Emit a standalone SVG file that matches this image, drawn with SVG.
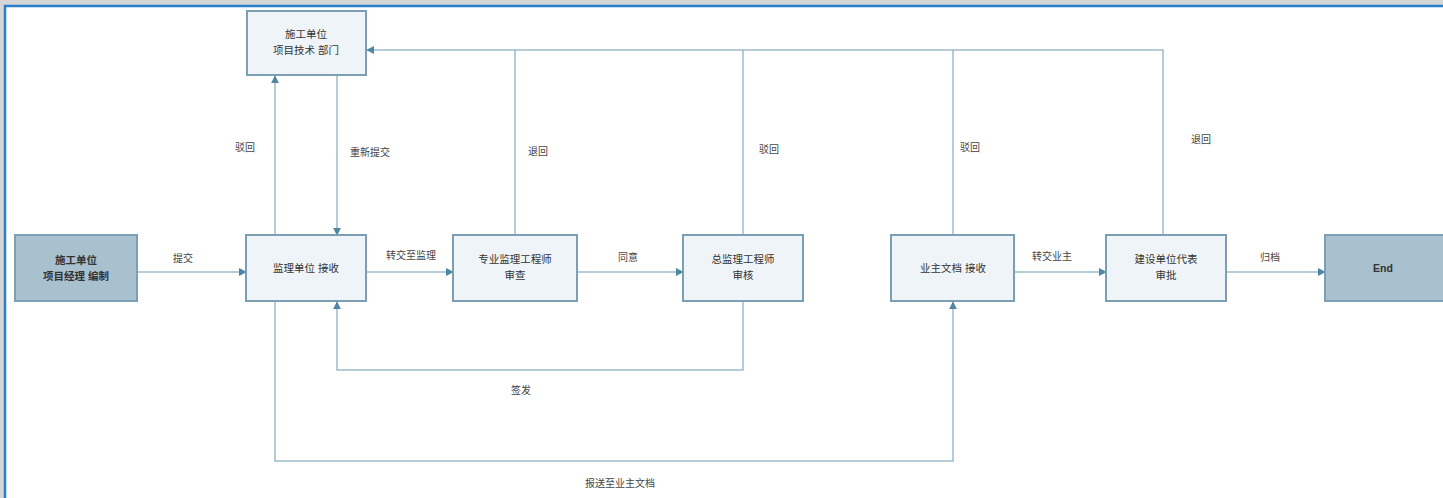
<svg xmlns="http://www.w3.org/2000/svg" width="1443" height="498" viewBox="0 0 1443 498">
<defs>
<style>
.bg{fill:#ffffff;stroke:#2a7fc9;stroke-width:2.5}
.n{fill:#eef4f8;stroke:#7d9fb3;stroke-width:2}
.d{fill:#a9c0ce;stroke:#7d9fb3;stroke-width:2}
.t{font-family:"Liberation Sans","Noto Sans CJK SC",sans-serif;font-size:10.5px;fill:#333;text-anchor:middle}
.b{font-weight:bold}
.l{font-family:"Liberation Sans","Noto Sans CJK SC",sans-serif;font-size:10px;fill:#444;text-anchor:middle}
.c{fill:none;stroke:#9dbccb;stroke-width:1.5}
</style>
<marker id="a" viewBox="0 0 10 10" refX="9" refY="5" markerWidth="8" markerHeight="8" orient="auto" markerUnits="userSpaceOnUse">
<path d="M0,0 L10,5 L0,10 z" fill="#4f86a3"/>
</marker>
</defs>
<rect x="0" y="0" width="1443" height="498" fill="#d6d6d6"/>
<rect class="bg" x="5" y="6" width="1450" height="500"/>

<g id="connectors">
<path class="c" d="M137,272 H246" marker-end="url(#a)"/>
<path class="c" d="M366,272 H453" marker-end="url(#a)"/>
<path class="c" d="M577,272 H683" marker-end="url(#a)"/>
<path class="c" d="M1014,272 H1106" marker-end="url(#a)"/>
<path class="c" d="M1226,272 H1325" marker-end="url(#a)"/>
<path class="c" d="M275,235 V76" marker-end="url(#a)"/>
<path class="c" d="M337,75 V235" marker-end="url(#a)"/>
<path class="c" d="M515,235 V50"/>
<path class="c" d="M743,235 V50"/>
<path class="c" d="M953,235 V50"/>
<path class="c" d="M1163,235 V50 H367" marker-end="url(#a)"/>
<path class="c" d="M743,301 V370 H337 V302" marker-end="url(#a)"/>
<path class="c" d="M275,301 V461 H953 V302" marker-end="url(#a)"/>
<g class="l">
<text x="183" y="262">提交</text>
<text x="245" y="151">驳回</text>
<text x="370" y="156">重新提交</text>
<text x="538" y="155">退回</text>
<text x="769" y="153">驳回</text>
<text x="970" y="151">驳回</text>
<text x="1201" y="143">退回</text>
<text x="411" y="259">转交至监理</text>
<text x="628" y="261">同意</text>
<text x="1052" y="260">转交业主</text>
<text x="1270" y="261">归档</text>
<text x="521" y="394">签发</text>
<text x="620" y="487">报送至业主文档</text>
</g>
</g>

<g id="start">
<rect class="d" x="15" y="235" width="122" height="66"/>
<text class="t b" x="76" y="264">施工单位</text>
<text class="t b" x="76" y="280">项目经理 编制</text>
</g>
<g id="top">
<rect class="n" x="247" y="11" width="119" height="64"/>
<text class="t" x="306" y="38">施工单位</text>
<text class="t" x="306" y="54">项目技术 部门</text>
</g>
<g id="receive">
<rect class="n" x="246" y="235" width="120" height="66"/>
<text class="t" x="306" y="272">监理单位 接收</text>
</g>
<g id="review">
<rect class="n" x="453" y="235" width="124" height="66"/>
<text class="t" x="515" y="263">专业监理工程师</text>
<text class="t" x="515" y="279">审查</text>
</g>
<g id="chief">
<rect class="n" x="683" y="235" width="120" height="66"/>
<text class="t" x="743" y="263">总监理工程师</text>
<text class="t" x="743" y="279">审核</text>
</g>
<g id="owner">
<rect class="n" x="891" y="235" width="123" height="66"/>
<text class="t" x="953" y="272">业主文档 接收</text>
</g>
<g id="approve">
<rect class="n" x="1106" y="235" width="120" height="66"/>
<text class="t" x="1166" y="263">建设单位代表</text>
<text class="t" x="1166" y="279">审批</text>
</g>
<g id="end">
<rect class="d" x="1325" y="235" width="130" height="66"/>
<text class="t b" x="1383" y="272">End</text>
</g>
</svg>
